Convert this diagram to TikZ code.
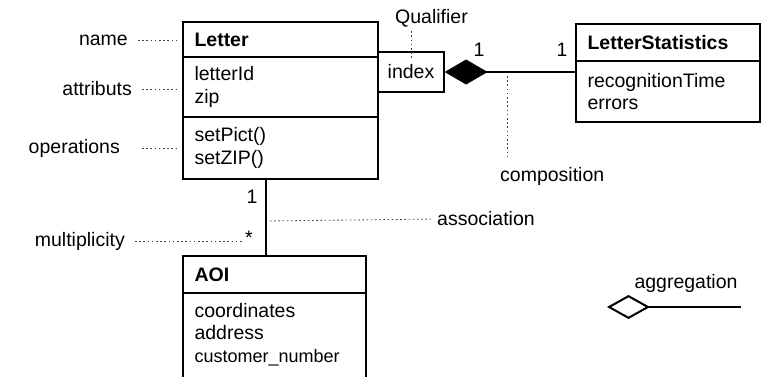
\documentclass[tikz,border=0pt]{standalone}
\usepackage{fontspec}
\setmainfont{Liberation Sans}
\usetikzlibrary{arrows.meta,positioning,calc}

\tikzset{
  umlpart/.style={draw, line width=2.5pt, outer sep=0pt, inner xsep=11.5pt, inner ysep=3pt, align=left, text width=#1},
  lbl/.style={inner sep=2pt},
  note/.style={draw=black!75, line width=0.8pt, dash pattern=on 1.6pt off 2.6pt, shorten <=8pt, shorten >=4pt},
  link/.style={line width=2pt},
}

\begin{document}
\begin{tikzpicture}[x=1pt,y=-1pt,font=\fontsize{19.5}{22.5}\selectfont]
    \useasboundingbox (0,0) rectangle (763,376);

    % Classes
    \node[umlpart=172pt, minimum height=35pt, anchor=north west] (lname) at (183,22) {\textbf{Letter}};
    \node[umlpart=172pt, minimum height=60pt, below=0pt of lname] (lattr) {letterId\\zip};
    \node[umlpart=172pt, minimum height=62pt, below=0pt of lattr] (lops) {setPict()\\setZIP()};

    \node[umlpart=161pt, minimum height=37pt, anchor=north west] (sname) at (576,24) {\textbf{LetterStatistics}};
    \node[umlpart=161pt, minimum height=61pt, below=0pt of sname] (sattr) {recognitionTime\\errors};

    \node[umlpart=160pt, minimum height=37pt, anchor=north west] (aname) at (183,256) {\textbf{AOI}};
    \node[umlpart=160pt, inner ysep=10pt, text depth=75pt, below=0pt of aname] (aattr) {coordinates\\address\\{\fontsize{18}{22.5}\selectfont customer\_number}};

    % Qualifier
    \node[draw, line width=1.2pt, minimum width=66pt, minimum height=40pt, inner sep=0pt] (index) at (411,72) {index};

    % Composition
    \draw[link, {Diamond[length=43pt,width=25pt]}-] (index.east) -- (index.east -| sattr.west);
    \node (c1) at (479,50) {1};
    \node (c2) at (562,50) {1};

    % Association
    \coordinate (ajoin) at (266,221);
    \draw[link] (ajoin |- lops.south) -- (ajoin |- aname.north);
    \node (a1) at (252,197) {1};
    \node[inner sep=1pt] (star) at (249,238) {*};

    % Aggregation
    \coordinate (aggL) at (607,307);
    \coordinate (aggR) at (741,307);
    \draw[link, {Diamond[open,length=43pt,width=24pt]}-] (aggL) -- (aggR);

    % Labels
    \node[lbl, anchor=east] (nameL) at (130,40) {name};
    \node[lbl, anchor=east] (attrL) at (134,89) {attributs};
    \node[lbl, anchor=east] (opsL) at (122,148) {operations};
    \node[lbl, anchor=east] (multL) at (127,241) {multiplicity};
    \node[lbl, anchor=west] (assocL) at (435,219) {association};
    \node[lbl, anchor=west] (compoL) at (498,176) {composition};
    \node[lbl, anchor=west] (qualL) at (393,18) {Qualifier};
    \node[lbl] (aggT) at (686,283) {aggregation};

    \coordinate (cjoin) at (507,72);
    \draw[note] (nameL.east) -- (nameL.east -| lname.west);
    \draw[note] (attrL.east) -- (attrL.east -| lattr.west);
    \draw[note, shorten <=20pt] (opsL.east) -- (opsL.east -| lops.west);
    \draw[note, shorten >=0pt] (multL.east) -- (multL.east -| star.west);
    \draw[note, shorten <=4pt, shorten >=2pt] (ajoin) -- (assocL.west);
    \draw[note, shorten <=4pt, shorten >=6pt] (cjoin) -- (cjoin |- compoL.north);
    \draw[note, shorten <=2pt, shorten >=-8pt] (qualL.south -| index.north) -- (index.north);
\end{tikzpicture}
\end{document}
